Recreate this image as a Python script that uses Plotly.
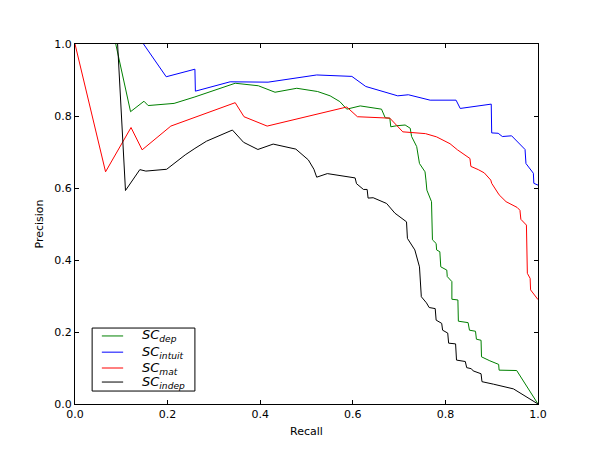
import plotly.graph_objects as go

# (recall, precision)
sc_dep = [
    (0.088, 1.0), (0.120, 0.812), (0.149, 0.841), (0.158, 0.829), (0.214, 0.835),
    (0.259, 0.853), (0.346, 0.891), (0.396, 0.884), (0.432, 0.866), (0.479, 0.877),
    (0.524, 0.868), (0.551, 0.856), (0.572, 0.840), (0.587, 0.819), (0.616, 0.828),
    (0.662, 0.819), (0.670, 0.795), (0.680, 0.794), (0.682, 0.770), (0.695, 0.773),
    (0.713, 0.775), (0.724, 0.766), (0.727, 0.743), (0.734, 0.724), (0.738, 0.715),
    (0.744, 0.668), (0.756, 0.645), (0.758, 0.622), (0.760, 0.594), (0.770, 0.562),
    (0.772, 0.456), (0.780, 0.446), (0.781, 0.428), (0.788, 0.423), (0.790, 0.381),
    (0.803, 0.372), (0.804, 0.354), (0.814, 0.340), (0.814, 0.291), (0.827, 0.289),
    (0.828, 0.230), (0.849, 0.226), (0.852, 0.205), (0.865, 0.202), (0.867, 0.180),
    (0.877, 0.177), (0.878, 0.131), (0.896, 0.120), (0.904, 0.115), (0.915, 0.110),
    (0.916, 0.094), (0.954, 0.093), (1.0, 0.0),
]
sc_intuit = [
    (0.148, 1.0), (0.197, 0.909), (0.259, 0.930), (0.260, 0.869), (0.335, 0.895),
    (0.417, 0.894), (0.522, 0.914), (0.598, 0.910), (0.628, 0.882), (0.697, 0.856),
    (0.720, 0.859), (0.767, 0.844), (0.823, 0.844), (0.832, 0.821), (0.899, 0.833),
    (0.900, 0.753), (0.914, 0.752), (0.923, 0.743), (0.943, 0.745), (0.972, 0.707),
    (0.974, 0.668), (0.990, 0.641), (0.991, 0.613), (1.0, 0.608),
]
sc_mat = [
    (0.0, 1.0), (0.066, 0.645), (0.121, 0.768), (0.145, 0.706), (0.207, 0.772),
    (0.346, 0.837), (0.365, 0.798), (0.415, 0.772), (0.587, 0.825), (0.610, 0.798),
    (0.680, 0.794), (0.708, 0.756), (0.757, 0.751), (0.781, 0.742), (0.810, 0.723),
    (0.826, 0.706), (0.853, 0.682), (0.855, 0.660), (0.871, 0.651), (0.884, 0.642),
    (0.898, 0.622), (0.900, 0.613), (0.916, 0.581), (0.931, 0.562), (0.955, 0.546),
    (0.961, 0.538), (0.963, 0.513), (0.975, 0.497), (0.977, 0.363), (0.983, 0.349),
    (0.984, 0.317), (1.0, 0.290),
]
sc_indep = [
    (0.092, 1.0), (0.109, 0.593), (0.140, 0.651), (0.153, 0.647), (0.198, 0.652),
    (0.238, 0.692), (0.259, 0.710), (0.284, 0.730), (0.340, 0.761), (0.364, 0.727),
    (0.395, 0.707), (0.428, 0.722), (0.477, 0.708), (0.504, 0.678), (0.516, 0.652),
    (0.522, 0.630), (0.545, 0.640), (0.605, 0.628), (0.608, 0.612), (0.623, 0.596),
    (0.631, 0.596), (0.633, 0.572), (0.644, 0.573), (0.673, 0.557), (0.691, 0.530),
    (0.716, 0.506), (0.718, 0.460), (0.734, 0.428), (0.744, 0.381), (0.748, 0.298),
    (0.759, 0.281), (0.765, 0.268), (0.778, 0.265), (0.780, 0.233), (0.792, 0.224),
    (0.794, 0.205), (0.805, 0.197), (0.807, 0.169), (0.822, 0.167), (0.824, 0.122),
    (0.843, 0.118), (0.846, 0.101), (0.856, 0.098), (0.860, 0.092), (0.877, 0.084),
    (0.879, 0.062), (0.904, 0.055), (0.925, 0.048), (0.947, 0.042), (1.0, 0.0),
]

series = [
    ("<i>SC</i><sub><i>dep</i></sub>", sc_dep, "#008000"),
    ("<i>SC</i><sub><i>intuit</i></sub>", sc_intuit, "#0000ff"),
    ("<i>SC</i><sub><i>mat</i></sub>", sc_mat, "#ff0000"),
    ("<i>SC</i><sub><i>indep</i></sub>", sc_indep, "#000000"),
]

fig = go.Figure()
for name, pts, color in series:
    xs, ys = zip(*pts)
    fig.add_trace(go.Scatter(x=xs, y=ys, mode="lines", name=name, showlegend=False,
                             line=dict(color=color, width=1)))

# compact matplotlib-like legend box, drawn by hand in plot-area coordinates
fig.add_shape(type="rect", xref="paper", yref="paper", x0=0.037, x1=0.259,
              y0=0.036, y1=0.211, line=dict(color="black", width=1),
              fillcolor="white", layer="above")
row_y = [0.189, 0.144, 0.100, 0.061]
for (name, pts, color), ry in zip(series, row_y):
    fig.add_shape(type="line", xref="paper", yref="paper", x0=0.058, x1=0.104,
                  y0=ry, y1=ry, line=dict(color=color, width=1), layer="above")
    fig.add_annotation(x=0.140, y=ry, xref="paper", yref="paper", text=name,
                       showarrow=False, xanchor="left", yanchor="middle",
                       font=dict(size=13, color="black"))

axis_style = dict(range=[0, 1], dtick=0.2, tickformat=".1f", showgrid=False,
                  zeroline=False, showline=True, linecolor="black", linewidth=1,
                  mirror="ticks", ticks="inside", ticklen=4, tickcolor="black",
                  automargin=False, tickfont=dict(size=11, color="black"))

fig.update_xaxes(**axis_style, title=dict(text="Recall", standoff=7,
                                          font=dict(size=11, color="black")))
fig.update_yaxes(**axis_style, title=dict(text="Precision", standoff=8,
                                          font=dict(size=11, color="black")))

# page body adds an 8px offset, so the margins are shifted to compensate
fig.update_layout(
    width=600, height=450,
    margin=dict(l=67, r=70, t=36, b=54),
    paper_bgcolor="white", plot_bgcolor="white",
    font=dict(family="DejaVu Sans", size=11, color="black"),
    showlegend=False,
)

fig.write_html("out.html")
